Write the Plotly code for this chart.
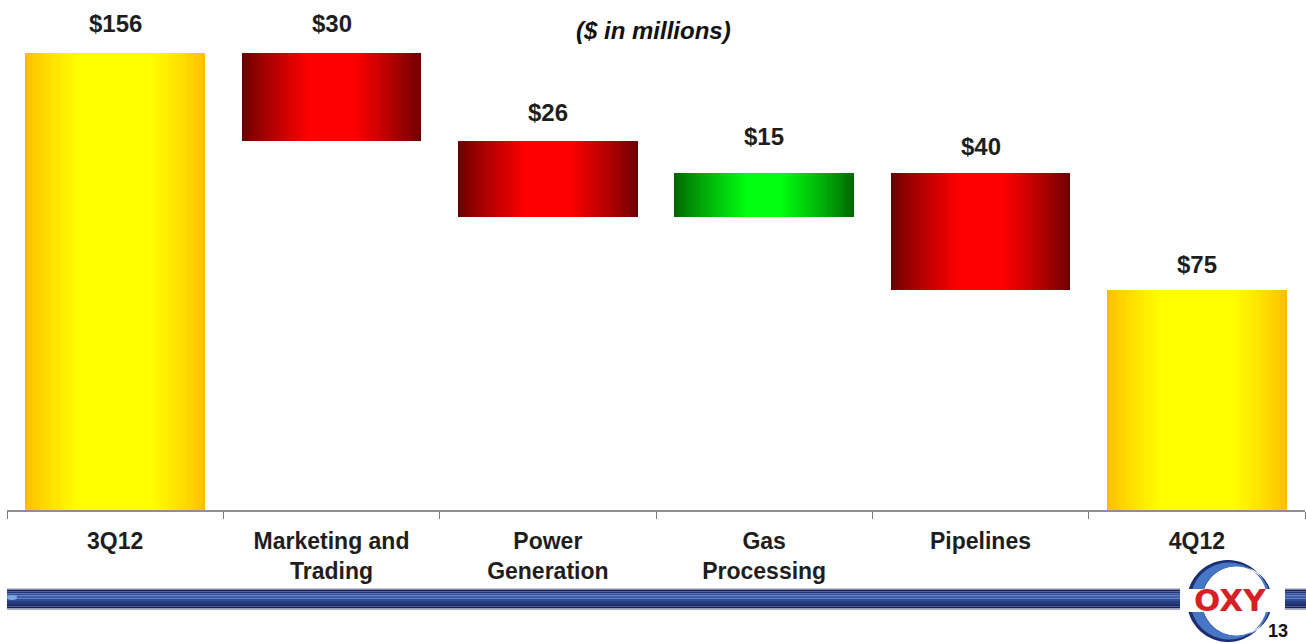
import math
import plotly.graph_objects as go

# ---- data ($ in millions) ----
categories = ["3Q12", "Marketing and<br>Trading", "Power<br>Generation",
              "Gas<br>Processing", "Pipelines", "4Q12"]
start_value = 156
changes = [-30, -26, 15, -40]
end_value = 75

# ---- waterfall geometry (bases / heights / kinds) ----
bases, heights, kinds, values = [0], [start_value], ["total"], [start_value]
running = start_value
for c in changes:
    new = running + c
    bases.append(min(running, new))
    heights.append(abs(c))
    kinds.append("down" if c < 0 else "up")
    values.append(c)
    running = new
bases.append(0)
heights.append(end_value)
kinds.append("total")
values.append(end_value)
labels = ["$%d" % abs(v) for v in values]
tops = [b + h for b, h in zip(bases, heights)]

# ---- canvas ----
FIG_W, FIG_H = 1306, 643
PLOT_L, PLOT_R, AXIS_Y = 7, 1305, 510
Y_MAX = 174
BAR_W = 0.832
FONT = "Liberation Sans, Arial, sans-serif"


def px(x):
    return x / FIG_W


def py(y):
    return 1 - y / FIG_H


def hex2rgb(h):
    h = h.lstrip("#")
    return [int(h[i:i + 2], 16) for i in (0, 2, 4)]


def mix(c1, c2, f):
    a, b = hex2rgb(c1), hex2rgb(c2)
    return "rgb(%d,%d,%d)" % tuple(round(a[i] + (b[i] - a[i]) * f) for i in range(3))


# edge colour, centre colour, fraction of the half-width where centre colour is reached
gradients = {
    "total": ("#FFBF00", "#FFFF00", 0.60),
    "down": ("#6A0000", "#FF0000", 0.75),
    "up": ("#006400", "#00FF10", 0.80),
}

fig = go.Figure()

# horizontal gradient built from concentric bars of shrinking width
N = 40
for k in range(N):
    t = k / N
    colors, widths = [], []
    for kind in kinds:
        edge, centre, core = gradients[kind]
        f = min(1.0, t / core)
        f = f ** 0.85
        colors.append(mix(edge, centre, f))
        widths.append(BAR_W * (1 - t))
    fig.add_trace(go.Bar(
        x=categories, y=heights, base=bases, width=widths,
        marker=dict(color=colors, line=dict(width=0)),
        hoverinfo="skip", showlegend=False,
    ))

# value labels above each bar
label_shift = [29, 29, 28, 36, 26, 26]
annotations = []
for cat, top, txt, dy in zip(categories, tops, labels, label_shift):
    annotations.append(dict(
        x=cat, y=top, xref="x", yref="y", text=txt, showarrow=False,
        yshift=dy, font=dict(family=FONT, size=24, color="#1e1e1e", weight="bold"),
    ))

annotations.append(dict(
    x=px(654), y=py(30), xref="paper", yref="paper", text="($ in millions)",
    showarrow=False, xanchor="center", yanchor="middle",
    font=dict(family=FONT, size=24, color="#111111", weight="bold", style="italic"),
))

# ---- footer banner ----
shapes = []
stripes = [
    (588, 589.5, "#c4c9de"),
    (589.5, 591.5, "#18215a"),
    (591.5, 593.5, "#22357a"),
    (593.5, 595.5, "#2f4f9c"),
    (595.5, 598.5, "#3a60b0"),
    (598.5, 601, "#304d96"),
    (601, 604, "#263c80"),
    (604, 606.5, "#1d2e6c"),
    (606.5, 608.5, "#152254"),
    (608.5, 610, "#a8b0cc"),
]
for x0, x1 in [(7, 1180), (1285, 1306)]:
    for y0, y1, col in stripes:
        shapes.append(dict(type="rect", xref="paper", yref="paper",
                           x0=px(x0), x1=px(x1), y0=py(y1), y1=py(y0),
                           fillcolor=col, line=dict(width=0), layer="above"))
shapes.append(dict(type="circle", xref="paper", yref="paper",
                   x0=px(7), x1=px(17), y0=py(600), y1=py(595),
                   fillcolor="#7fa6e0", line=dict(width=0), layer="above"))


def ring_path(cx, cy, r, hx, hy, hr, n=90):
    pts = []
    for i in range(n):
        a = 2 * math.pi * i / n
        pts.append((px(cx + r * math.cos(a)), py(cy + r * math.sin(a))))
    path = "M " + " L ".join("%.5f,%.5f" % p for p in pts) + " Z"
    pts = []
    for i in range(n):
        a = -2 * math.pi * i / n
        pts.append((px(hx + hr * math.cos(a)), py(hy + hr * math.sin(a))))
    path += " M " + " L ".join("%.5f,%.5f" % p for p in pts) + " Z"
    return path


# logo swoosh: crescent ring, thick on the left, open on the right
shapes.append(dict(type="path", xref="paper", yref="paper",
                   path=ring_path(1228, 601, 41, 1237, 601, 35),
                   fillcolor="#1d2f70", line=dict(width=0), fillrule="evenodd", layer="above"))
shapes.append(dict(type="path", xref="paper", yref="paper",
                   path=ring_path(1229, 601, 38.5, 1236, 601, 34.5),
                   fillcolor="#4676c4", line=dict(width=0), fillrule="evenodd", layer="above"))
# white window behind the lettering and the open right side of the ring
shapes.append(dict(type="rect", xref="paper", yref="paper",
                   x0=px(1183), x1=px(1282), y0=py(612), y1=py(589),
                   fillcolor="white", line=dict(width=0), layer="above"))

annotations.append(dict(
    x=px(1230), y=py(600), xref="paper", yref="paper", text="OXY", showarrow=False,
    xanchor="center", yanchor="middle",
    font=dict(family="DejaVu Sans, sans-serif", size=31, color="#d61f26", weight="bold"),
))
annotations.append(dict(
    x=px(1278), y=py(631), xref="paper", yref="paper", text="13", showarrow=False,
    xanchor="center", yanchor="middle",
    font=dict(family=FONT, size=18, color="#111111", weight="bold"),
))

fig.update_layout(
    template="none",
    width=FIG_W, height=FIG_H,
    margin=dict(l=0, r=0, t=0, b=0, pad=0),
    paper_bgcolor="white", plot_bgcolor="white",
    barmode="overlay", bargap=0,
    showlegend=False,
    annotations=annotations,
    shapes=shapes,
    xaxis=dict(
        domain=[px(PLOT_L), px(PLOT_R)],
        type="category", automargin=False,
        showgrid=False, zeroline=False,
        showline=True, linecolor="#8f8f8f", linewidth=2,
        ticks="outside", tickson="boundaries", ticklen=7, tickwidth=1, tickcolor="#7a7a7a",
        ticklabelstandoff=9,
        tickfont=dict(family=FONT, size=23, color="#1e1e1e", weight="bold"),
    ),
    yaxis=dict(
        domain=[py(AXIS_Y), 1], range=[0, Y_MAX], automargin=False,
        showgrid=False, zeroline=False, showline=False, showticklabels=False, ticks="",
    ),
)

fig.write_html("out.html")
